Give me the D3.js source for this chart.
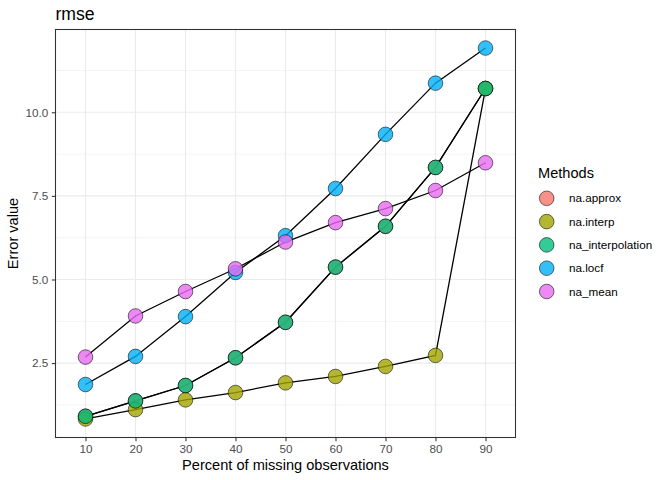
<!DOCTYPE html>
<html><head><meta charset="utf-8">
<script src="https://cdn.jsdelivr.net/npm/d3@7/dist/d3.min.js"></script>
<style>body{margin:0;background:#fff;} text{font-family:"Liberation Sans",Arial,sans-serif;}</style>
</head><body><svg id="c" width="672" height="480"></svg>
<script>
const pct = [10,20,30,40,50,60,70,80,90];
const methods = ["na.approx","na.interp","na_interpolation","na.locf","na_mean"];
const colors = ["#F8766D","#A3A500","#00BF7D","#00B0F6","#E76BF3"];
const naApprox = [0.91,1.37,1.83,2.66,3.72,5.37,6.59,8.35,10.71];
const naInterp = [0.83,1.11,1.40,1.62,1.91,2.10,2.40,2.73,10.71];
const naInterpolation = [0.91,1.37,1.83,2.66,3.72,5.37,6.59,8.35,10.71];
const naLocf = [1.86,2.70,3.89,5.21,6.31,7.72,9.34,10.87,11.92];
const naMean = [2.68,3.91,4.64,5.32,6.12,6.70,7.12,7.66,8.49];
const yTicks = [2.5,5.0,7.5,10.0];
const yMinor = [1.25,3.75,6.25,8.75,11.25];
const seriesVals = [naApprox,naInterp,naInterpolation,naLocf,naMean];

const svg = d3.select("#c");
const L=55.5, R=515.5, T=29.5, B=437.5;
const x = d3.scaleLinear().domain([4,96]).range([L,R]);
const allV = seriesVals.flat();
const ymin=d3.min(allV), ymax=d3.max(allV), pad=(ymax-ymin)*0.05;
const y = d3.scaleLinear().domain([ymin-pad,ymax+pad]).range([B,T]);
const col = d3.scaleOrdinal().domain(methods).range(colors);

svg.append("text").attr("x",L).attr("y",20).attr("font-size",17.6).attr("fill","#000").text("rmse");

const g = svg.append("g");
g.selectAll(".ymin").data(yMinor).join("line").attr("x1",L).attr("x2",R)
 .attr("y1",d=>y(d)).attr("y2",d=>y(d)).attr("stroke","#EBEBEB").attr("stroke-width",0.55);
g.selectAll(".ymaj").data(yTicks).join("line").attr("x1",L).attr("x2",R)
 .attr("y1",d=>y(d)).attr("y2",d=>y(d)).attr("stroke","#EBEBEB").attr("stroke-width",1.1);
g.selectAll(".xmaj").data(pct).join("line").attr("y1",T).attr("y2",B)
 .attr("x1",d=>x(d)).attr("x2",d=>x(d)).attr("stroke","#EBEBEB").attr("stroke-width",1.1);

const line = d3.line().x((d,i)=>x(pct[i])).y(d=>y(d));
methods.forEach((m,k)=>{
  g.append("path").datum(seriesVals[k]).attr("d",line).attr("fill","none")
   .attr("stroke","#000").attr("stroke-width",1.3);
});
methods.forEach((m,k)=>{
  g.selectAll(null).data(seriesVals[k]).join("circle")
   .attr("cx",(d,i)=>x(pct[i])).attr("cy",d=>y(d)).attr("r",7.3)
   .attr("fill",col(m)).attr("fill-opacity",0.8)
   .attr("stroke","#000").attr("stroke-opacity",0.8).attr("stroke-width",0.7);
});

svg.append("rect").attr("x",L).attr("y",T).attr("width",R-L).attr("height",B-T)
 .attr("fill","none").attr("stroke","#333333").attr("stroke-width",1.07);

const xa = svg.append("g").attr("transform",`translate(0,${B})`)
 .call(d3.axisBottom(x).tickValues(pct).tickSize(3.7).tickPadding(3.5).tickFormat(d3.format("d")));
const ya = svg.append("g").attr("transform",`translate(${L},0)`)
 .call(d3.axisLeft(y).tickValues(yTicks).tickSize(3.7).tickPadding(3.5).tickFormat(d3.format(".1f")));
[xa,ya].forEach(a=>{
  a.select(".domain").remove();
  a.selectAll(".tick line").attr("stroke","#333333").attr("stroke-width",1.07);
  a.selectAll(".tick text").attr("fill","#4D4D4D").attr("font-size",11.7)
   .attr("font-family","'Liberation Sans',Arial,sans-serif");
});

svg.append("text").attr("x",(L+R)/2).attr("y",470).attr("text-anchor","middle")
 .attr("font-size",14.6).text("Percent of missing observations");
svg.append("text").attr("transform",`translate(18,${(T+B)/2}) rotate(-90)`)
 .attr("text-anchor","middle").attr("font-size",14.6).text("Error value");

const lg = svg.append("g");
lg.append("text").attr("x",538).attr("y",178).attr("font-size",14.6).text("Methods");
methods.forEach((m,k)=>{
  const cy = 198.3 + k*23.3;
  lg.append("circle").attr("cx",546.7).attr("cy",cy).attr("r",7.3)
   .attr("fill",col(m)).attr("fill-opacity",0.8)
   .attr("stroke","#000").attr("stroke-opacity",0.8).attr("stroke-width",0.7);
  lg.append("text").attr("x",569).attr("y",cy+4).attr("font-size",11.7).text(m);
});
</script></body></html>
